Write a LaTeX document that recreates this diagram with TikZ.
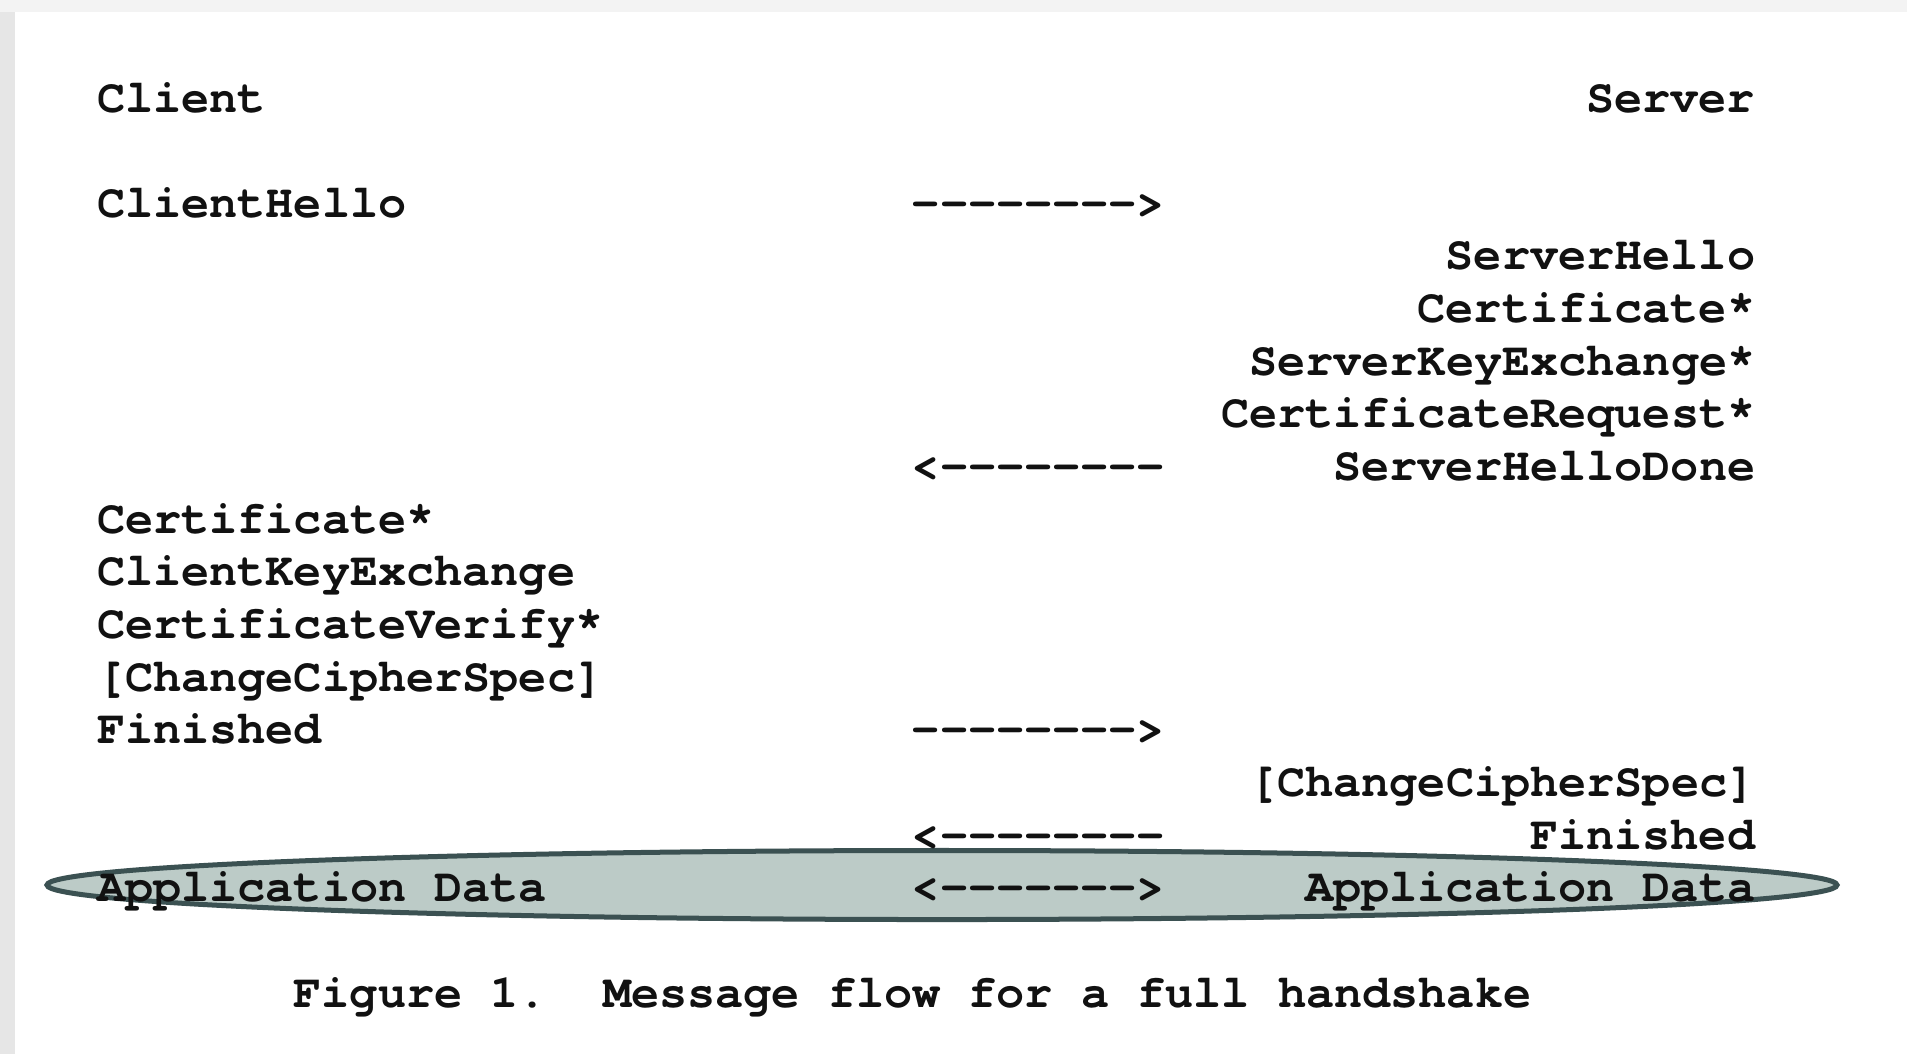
\documentclass[tikz,border=0pt]{standalone}
\usepackage{fontspec}
\setmonofont{TeX Gyre Cursor}[Ligatures={NoCommon}]
\usetikzlibrary{shapes.geometric}
\definecolor{ellfill}{HTML}{BCCBC7}
\definecolor{elldraw}{HTML}{3B5152}
\definecolor{bgtop}{HTML}{F3F3F3}
\definecolor{bgleft}{HTML}{E6E6E6}
\definecolor{ink}{HTML}{111111}
\begin{document}
\begin{tikzpicture}[x=0.01cm,y=-0.01cm,
  msg/.style={inner sep=0pt,outer sep=0pt,anchor=base west,text=ink,
    font=\ttfamily\bfseries\fontsize{13.33pt}{15pt}\selectfont}]
\useasboundingbox (0,0) rectangle (1907,1054);
\fill[bgtop] (0,0) rectangle (1907,1054);
\fill[bgleft] (0,12) rectangle (15,1054);
\fill[white] (15,12) rectangle (1907,1054);
\def\xo{97}\def\cw{28.1}\def\yo{112}\def\lh{52.65}
% highlight ellipse
\draw[elldraw,fill=ellfill,line width=0.05cm] (942,885) ellipse [x radius=8.945cm, y radius=0.345cm];
% row 0
\node[msg] (client) at (\xo,\yo) {Client};
\node[msg] (server) at ({\xo+53*\cw},\yo) {Server};
% row 2
\node[msg] (chello) at (\xo,{\yo+2*\lh}) {ClientHello};
\node[msg] (a1) at ({\xo+29*\cw},{\yo+2*\lh}) {-------->};
% rows 3-7
\node[msg] (shello) at ({\xo+48*\cw},{\yo+3*\lh}) {ServerHello};
\node[msg] (scert) at ({\xo+47*\cw},{\yo+4*\lh}) {Certificate*};
\node[msg] (ske) at ({\xo+41*\cw},{\yo+5*\lh}) {ServerKeyExchange*};
\node[msg] (creq) at ({\xo+40*\cw},{\yo+6*\lh}) {CertificateRequest*};
\node[msg] (a2) at ({\xo+29*\cw},{\yo+7*\lh}) {<--------};
\node[msg] (shd) at ({\xo+44*\cw},{\yo+7*\lh}) {ServerHelloDone};
% rows 8-12
\node[msg] (ccert) at (\xo,{\yo+8*\lh}) {Certificate*};
\node[msg] (cke) at (\xo,{\yo+9*\lh}) {ClientKeyExchange};
\node[msg] (cv) at (\xo,{\yo+10*\lh}) {CertificateVerify*};
\node[msg] (cccs) at (\xo,{\yo+11*\lh}) {[ChangeCipherSpec]};
\node[msg] (cfin) at (\xo,{\yo+12*\lh}) {Finished};
\node[msg] (a3) at ({\xo+29*\cw},{\yo+12*\lh}) {-------->};
% rows 13-15
\node[msg] (sccs) at ({\xo+41*\cw},{\yo+13*\lh}) {[ChangeCipherSpec]};
\node[msg] (a4) at ({\xo+29*\cw},{\yo+14*\lh}) {<--------};
\node[msg] (sfin) at ({\xo+51*\cw},{\yo+14*\lh}) {Finished};
\node[msg] (cad) at (\xo,{\yo+15*\lh}) {Application Data};
\node[msg] (a5) at ({\xo+29*\cw},{\yo+15*\lh}) {<------->};
\node[msg] (sad) at ({\xo+43*\cw},{\yo+15*\lh}) {Application Data};
% caption
\node[msg] (cap) at ({\xo+7*\cw},{\yo+17*\lh}) {Figure 1.\ \ Message flow for a full handshake};
\end{tikzpicture}
\end{document}
